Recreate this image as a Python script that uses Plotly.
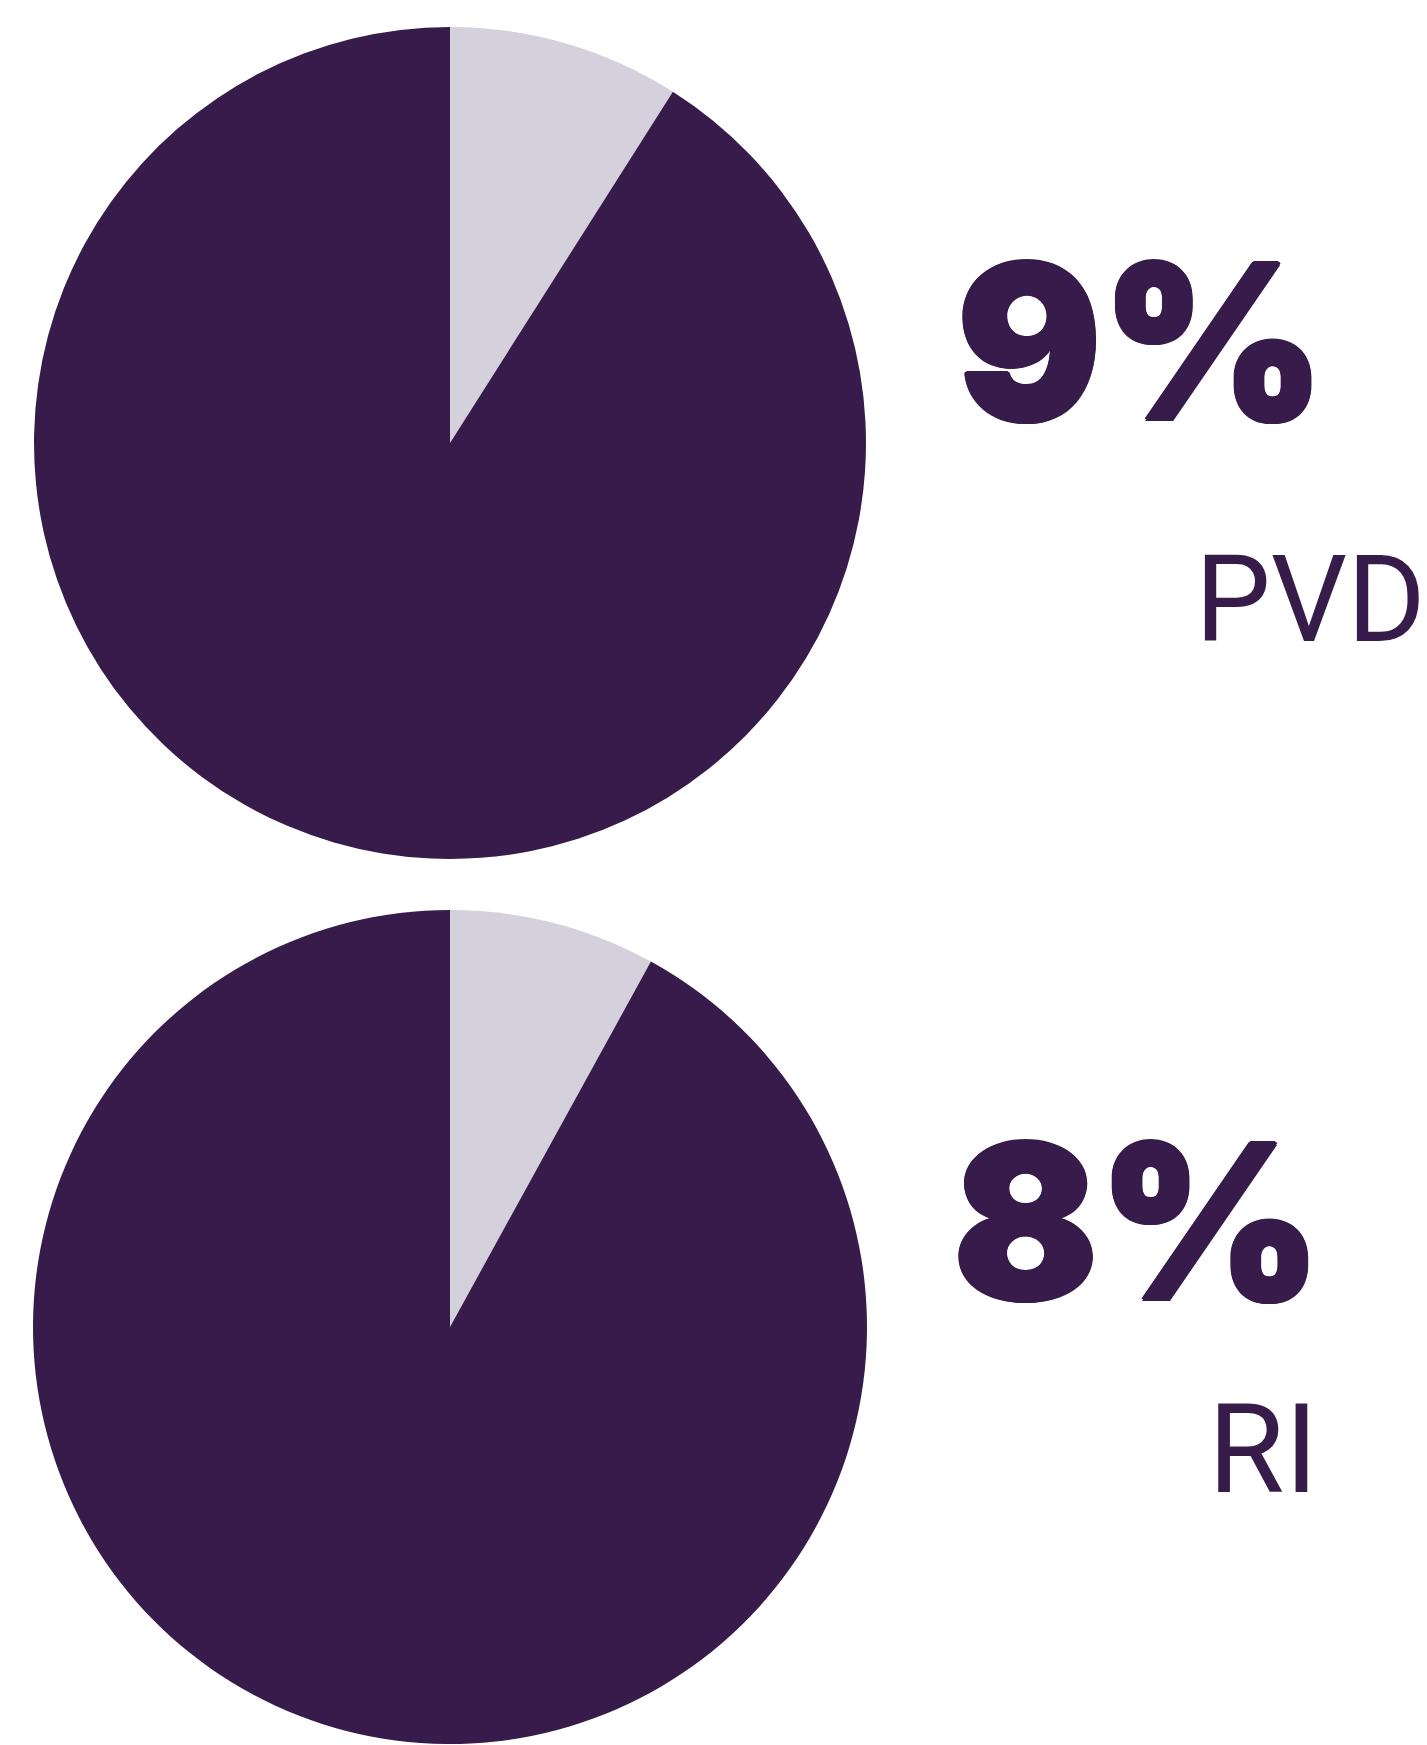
import plotly.graph_objects as go

W, H = 1427, 1745

labels = ["Share", "Rest"]
pvd_values = [9, 91]
ri_values = [8, 92]
big_labels = ["9%", "8%"]
small_labels = ["PVD", "RI"]

DARK = "#371C4B"
LIGHT = "#D4D0DC"

def px_x(v):
    return v / W

def px_y(v):
    return 1 - v / H

fig = go.Figure()

# top pie
cx1, cy1, r1 = 442, 435, 416
fig.add_trace(go.Pie(
    labels=labels, values=pvd_values, sort=False, direction="clockwise", rotation=0,
    marker=dict(colors=[LIGHT, DARK], line=dict(width=0)),
    textinfo="none", hoverinfo="none", showlegend=False,
    domain=dict(x=[px_x(cx1 - r1), px_x(cx1 + r1)], y=[px_y(cy1 + r1), px_y(cy1 - r1)]),
))
# bottom pie
cx2, cy2, r2 = 442, 1319, 417
fig.add_trace(go.Pie(
    labels=labels, values=ri_values, sort=False, direction="clockwise", rotation=0,
    marker=dict(colors=[LIGHT, DARK], line=dict(width=0)),
    textinfo="none", hoverinfo="none", showlegend=False,
    domain=dict(x=[px_x(cx2 - r2), px_x(cx2 + r2)], y=[px_y(cy2 + r2), px_y(cy2 - r2)]),
))

heavy_shadow = ("2px 0 0 #371C4B, -2px 0 0 #371C4B, 0 2px 0 #371C4B, 0 -2px 0 #371C4B, "
                "1.5px 1.5px 0 #371C4B, -1.5px -1.5px 0 #371C4B, 1.5px -1.5px 0 #371C4B, -1.5px 1.5px 0 #371C4B")
big_font = dict(family="Inter", size=214, color=DARK, weight=900, shadow=heavy_shadow)
pvd_font = dict(family="Roboto", size=120, color=DARK, weight=400)
ri_font = dict(family="Roboto", size=124, color=DARK, weight=400)

fig.add_annotation(text=big_labels[0], x=px_x(947), y=px_y(334), xref="paper", yref="paper",
                   xanchor="left", yanchor="middle", showarrow=False, font=big_font)
fig.add_annotation(text=small_labels[0], x=px_x(1185), y=px_y(592), xref="paper", yref="paper",
                   xanchor="left", yanchor="middle", showarrow=False, font=pvd_font)
fig.add_annotation(text=big_labels[1], x=px_x(943), y=px_y(1213), xref="paper", yref="paper",
                   xanchor="left", yanchor="middle", showarrow=False, font=big_font)
fig.add_annotation(text=small_labels[1], x=px_x(1198), y=px_y(1441), xref="paper", yref="paper",
                   xanchor="left", yanchor="middle", showarrow=False, font=ri_font)

fig.update_layout(
    width=W, height=H,
    margin=dict(l=0, r=0, t=0, b=0),
    paper_bgcolor="white", plot_bgcolor="white",
)

fig.write_html("out.html", config={"displayModeBar": False})
